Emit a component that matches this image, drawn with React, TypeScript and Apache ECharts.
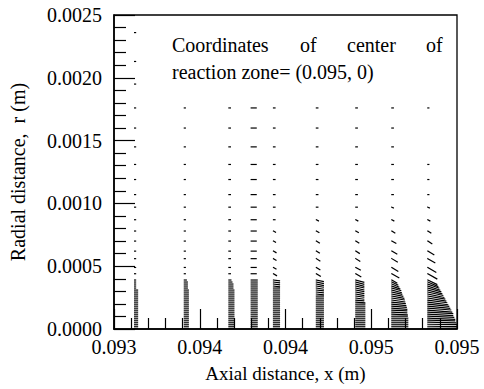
import React, { useEffect, useRef } from "react";
import * as echarts from "echarts";

// ---- axes ----
const X_MIN = 0.093;
const X_MAX = 0.095;
const X_STEP = 0.0005;
const Y_MIN = 0;
const Y_MAX = 0.0025;
const Y_STEP = 0.0005;
const xTickLabels = ["0.093", "0.094", "0.094", "0.095", "0.095"];
const yTickLabels = ["0.0000", "0.0005", "0.0010", "0.0015", "0.0020", "0.0025"];

const xAxisName = "Axial distance, x (m)";
const yAxisName = "Radial distance,  r (m)";
const noteLine1 = ["Coordinates", "of", "center", "of"];
const noteLine2 = "reaction zone= (0.095, 0)";

// ---- vector field grid ----
// axial positions of the mesh columns (m)
const xCols = [0.09312, 0.09341, 0.09367, 0.0938, 0.09393, 0.09418, 0.09441, 0.09462, 0.09483];
// radial positions of the mesh rows (m): coarse rows, then fine rows near the axis
const rRows = [
  0.00236, 0.00213, 0.00195, 0.00176, 0.0016, 0.00145, 0.00131, 0.00119, 0.00107,
  0.00097, 0.00087, 0.00078, 0.0007, 0.00062, 0.00056, 0.00049, 0.00044,
  0.00039, 0.000374, 0.000358, 0.000342, 0.000326, 0.00031, 0.000294, 0.000278,
  0.000262, 0.000246, 0.00023, 0.000214, 0.000198, 0.000182, 0.000166, 0.00015,
  0.000134, 0.000118, 0.000102, 0.000086, 0.00007, 0.000054, 0.000038, 0.000022, 0.000006,
];
// axial velocity component per column (m/s), null = no vector
const uCol0 = [1, 1, 1, 1, 1, 1, 1, 1, 1, 1, 1, 1, 1, 1, 1, 1, 1,
  1, 1, 1, 1, 1, 3, 3, 3, 3, 3, 3, 3, 3, 3, 3, 3, 3, 3, 3, 3, 3, 3, 3, 3, 3];
const uCol1 = [null, null, null, 1, 1, 1, 1, 1, 1, 1, 1, 1, 1, 1, 1, 1, 1,
  2, 3, 3, 3, 3, 4, 4, 4, 4, 4, 4, 4, 4, 4, 4, 4, 4, 4, 4, 4, 4, 4, 4, 4, 4];
const uCol2 = [null, null, null, 1.5, 1.5, 1.5, 1.5, 1.5, 1.5, 1.5, 1.5, 1.5, 1.5, 1.5, 1.5, 1.5, 1.5,
  2, 3, 4, 4, 4, 5, 5, 5, 5, 5, 5, 5, 5, 5, 5, 5, 5, 5, 5, 5, 5, 5, 5, 5, 5];
const uCol3 = [null, null, null, 5, 5, 5, 5, 5, 5, 5, 5, 5, 5, 5, 5, 5, 5,
  6, 6, 6, 6, 6, 6, 6, 6, 6, 6, 6, 6, 6, 6, 6, 6, 6, 6, 6, 6, 6, 6, 6, 6, 6];
const uCol4 = [null, null, null, 1.5, 1.5, 1.5, 1.5, 1.5, 1.5, 1.5, 1.5, 2, 2, 2.5, 2.5, 2.5, 3,
  6, 6, 6, 6, 6, 6, 6, 6, 6, 6, 6, 6, 6, 6, 6, 6, 6, 6, 6, 6, 6, 6, 6, 6, 6];
const uCol5 = [null, null, null, 1.5, 1.5, 1.5, 1.5, 1.5, 1.5, 1.5, 2, 2.5, 3, 3, 3.5, 3.5, 4,
  7, 7, 7, 7, 7, 7, 7, 7, 7, 7, 7, 7, 7, 7, 7, 7, 7, 7, 7, 7, 7, 7, 7, 7, 7];
const uCol6 = [null, null, null, 1.5, 1.5, 1.5, 1.5, 1.5, 1.5, 1.5, 2, 2.5, 3, 3.5, 4, 4.5, 5,
  8, 8, 8, 8, 8, 8, 8, 8, 8, 8, 8, 9, 9, 9, 9, 9, 9, 9, 9, 9, 9, 9, 9, 9, 9];
const uCol7 = [null, null, null, 1.5, 1.5, 1.5, 1.5, 1.5, 1.5, 1.5, 2, 3, 4, 5, 5.5, 6, 7,
  5, 6, 7, 8, 9, 9.5, 10, 11, 12, 12.5, 13, 13.5, 14, 14.5, 15, 15, 15, 15.5, 15.5, 16, 16, 16, 16, 16, 16];
const uCol8 = [null, null, null, 1, null, null, 1, 1, 1, 1.5, 2, 3, 4, 6, 7, 8, 9,
  9, 10, 11, 12, 13, 14, 15, 16, 17, 18, 19, 20, 21, 22, 23, 24, 25, 25, 26, 27, 27, 28, 29, 29, 30];
// radial velocity component per column (m/s)
const vCol0 = [0, 0, 0, 0, 0, 0, 0, 0, 0, 0, 0, 0, 0, 0, 0, 0, 0,
  0, 0, 0, 0, 0, 0, 0, 0, 0, 0, 0, 0, 0, 0, 0, 0, 0, 0, 0, 0, 0, 0, 0, 0, 0];
const vCol1 = vCol0;
const vCol2 = vCol0;
const vCol3 = vCol0;
const vCol4 = [0, 0, 0, 0, 0, 0, 0, 0, 0, 0, 0, -1.5, -1.5, -2, -2, -2, -2.5,
  -1, -1, -1, -1, 0, 0, 0, 0, 0, 0, 0, 0, 0, 0, 0, 0, 0, 0, 0, 0, 0, 0, 0, 0, 0];
const vCol5 = [0, 0, 0, 0, 0, 0, 0, 0, 0, 0, -1.5, -2, -2.5, -2.5, -3, -3, -3.5,
  -2, -2, -2, -1.5, -1.5, -1, -1, -1, 0, 0, 0, 0, 0, 0, 0, 0, 0, 0, 0, 0, 0, 0, 0, 0, 0];
const vCol6 = [0, 0, 0, 0, 0, 0, 0, 0, 0, 0, -1.5, -2, -2.5, -3, -3.5, -3.5, -4,
  -3, -3, -3, -2.5, -2.5, -2, -2, -2, -1.5, -1.5, -1, -1, 0, 0, 0, 0, 0, 0, 0, 0, 0, 0, 0, 0, 0];
const vCol7 = [0, 0, 0, 0, 0, 0, 0, 0, 0, -1, -1.5, -2.5, -3, -4, -4.5, -5, -5.5,
  -4, -4, -4, -4, -3.5, -3.5, -3, -3, -3, -2.5, -2.5, -2, -2, -1.5, -1.5, -1, -1, -1, 0, 0, 0, 0, 0, 0, 0];
const vCol8 = [0, 0, 0, 0, 0, 0, 0, 0, 0, -1, -1.5, -2.5, -3.5, -5, -5.5, -6.5, -7,
  -6, -6, -5.5, -5.5, -5, -5, -4.5, -4.5, -4, -4, -3.5, -3.5, -3, -3, -2.5, -2.5, -2, -2, -1.5, -1.5, -1, -1, -0.5, -0.5, 0];

const uByCol = [uCol0, uCol1, uCol2, uCol3, uCol4, uCol5, uCol6, uCol7, uCol8];
const vByCol = [vCol0, vCol1, vCol2, vCol3, vCol4, vCol5, vCol6, vCol7, vCol8];
// vector plot scale: metres of arrow per m/s
const VEC_SCALE = 5.8e-6;

const FONT = "Liberation Serif";

function buildVectors() {
  const out: number[][] = [];
  xCols.forEach((x, c) => {
    rRows.forEach((r, i) => {
      const u = uByCol[c][i];
      if (u == null) return;
      out.push([x, r, u, vByCol[c][i]]);
    });
  });
  return out;
}

export default function App() {
  const ref = useRef<HTMLDivElement>(null);
  useEffect(() => {
    document.body.style.margin = "0";
    const chart = echarts.init(ref.current!, null, { renderer: "svg" });
    const textStyle = { fill: "#000", fontFamily: FONT, fontSize: 20 };
    const line1X = [172, 300, 347, 426];
    const graphics: any[] = [];
    noteLine1.forEach((w, i) =>
      graphics.push({ type: "text", left: line1X[i], top: 35, style: { text: w, ...textStyle } })
    );
    graphics.push({ type: "text", left: 172, top: 62, style: { text: noteLine2, ...textStyle } });
    const option: any = {
      animation: false,
      grid: {
        left: 113,
        right: 27,
        top: 15,
        bottom: 60,
        show: true,
        borderColor: "#000",
        borderWidth: 1.3,
      },
      xAxis: {
        type: "value",
        min: X_MIN,
        max: X_MAX,
        interval: X_STEP,
        name: xAxisName,
        nameLocation: "middle",
        nameGap: 35,
        nameTextStyle: { fontFamily: FONT, fontSize: 19, color: "#000" },
        axisLine: { show: true, lineStyle: { color: "#000", width: 1.6 } },
        axisTick: { show: true, inside: true, length: 20, lineStyle: { color: "#000", width: 1.2 } },
        minorTick: { show: true, splitNumber: 5, length: 11, lineStyle: { color: "#000", width: 1.2 } },
        splitLine: { show: false },
        axisLabel: {
          margin: 8,
          fontFamily: FONT,
          fontSize: 20,
          color: "#000",
          formatter: (v: number) => xTickLabels[Math.round((v - X_MIN) / X_STEP)] ?? "",
        },
      },
      yAxis: {
        type: "value",
        min: Y_MIN,
        max: Y_MAX,
        interval: Y_STEP,
        name: yAxisName,
        nameLocation: "middle",
        nameGap: 86,
        nameTextStyle: { fontFamily: FONT, fontSize: 20, color: "#000" },
        axisLine: { show: true, lineStyle: { color: "#000", width: 1.6 } },
        axisTick: { show: true, inside: true, length: 21, lineStyle: { color: "#000", width: 1.2 } },
        minorTick: { show: true, splitNumber: 5, length: 12, lineStyle: { color: "#000", width: 1.2 } },
        splitLine: { show: false },
        axisLabel: {
          margin: 12,
          fontFamily: FONT,
          fontSize: 20,
          color: "#000",
          formatter: (v: number) => yTickLabels[Math.round((v - Y_MIN) / Y_STEP)] ?? "",
        },
      },
      series: [
        {
          type: "custom",
          clip: true,
          data: buildVectors(),
          encode: { x: 0, y: 1 },
          renderItem: (params: any, api: any) => {
            const x = api.value(0);
            const r = api.value(1);
            const u = api.value(2);
            const v = api.value(3);
            const p0 = api.coord([x, r]);
            const p1 = api.coord([x + u * VEC_SCALE, r + v * VEC_SCALE]);
            return {
              type: "line",
              shape: { x1: p0[0], y1: p0[1], x2: p1[0], y2: p1[1] },
              style: { stroke: "#000", lineWidth: 1.2, lineCap: "square" },
            };
          },
        },
      ],
      graphic: graphics,
    };
    chart.setOption(option);
    return () => chart.dispose();
  }, []);
  return (
    <div
      ref={ref}
      style={{ position: "absolute", left: 0, top: 0, width: 484, height: 389, background: "#fff" }}
    />
  );
}
